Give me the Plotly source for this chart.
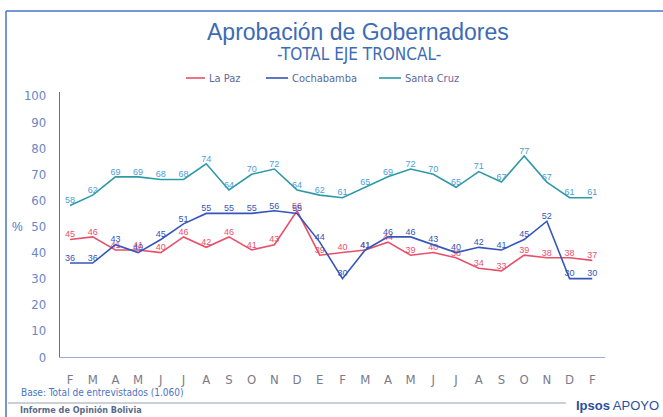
import plotly.graph_objects as go

months = ["F","M","A","M","J","J","A","S","O","N","D","E","F","M","A","M","J","J","A","S","O","N","D","F"]
la_paz = [45,46,41,41,40,46,42,46,41,43,56,39,40,41,44,39,40,38,34,33,39,38,38,37]
cochabamba = [36,36,43,40,45,51,55,55,55,56,55,44,30,41,46,46,43,40,42,41,45,52,30,30]
santa_cruz = [58,62,69,69,68,68,74,64,70,72,64,62,61,65,69,72,70,65,71,67,77,67,61,61]

W, H = 663, 417
L, R, T, B = 60, 605, 92, 357

def px(x):
    return (x - L) / (R - L)

def py(y):
    return (B - y) / (B - T)

x = list(range(len(months)))
FONT = "Liberation Sans, Arial, sans-serif"
NARROW = "DejaVu Sans Condensed, Liberation Sans, sans-serif"

fig = go.Figure()
series = [
    ("La Paz", la_paz, "#e8506a", "#e8506a"),
    ("Cochabamba", cochabamba, "#3555bb", "#3555bb"),
    ("Santa Cruz", santa_cruz, "#2e9aa6", "#4a9ed6"),
]
for name, vals, lc, tc in series:
    fig.add_trace(go.Scatter(
        x=x, y=vals, name=name, mode="lines+text",
        line=dict(color=lc, width=1.6),
        text=[str(v) for v in vals], textposition="top center",
        textfont=dict(size=9, color=tc, family=FONT),
        cliponaxis=False, showlegend=False, hoverinfo="skip",
    ))

fig.update_layout(
    width=W, height=H,
    margin=dict(l=L, r=W - R, t=T, b=H - B, autoexpand=False),
    paper_bgcolor="white", plot_bgcolor="white",
    showlegend=False,
    font=dict(family=FONT),
    xaxis=dict(range=[-0.44, 23.56], tickmode="array", tickvals=x, ticktext=months,
               showgrid=False, zeroline=False, showline=True, linecolor="#9aaad0", linewidth=1,
               ticks="", ticklabelstandoff=10, automargin=False,
               tickfont=dict(size=13, color="#7a7a8a", family=NARROW)),
    yaxis=dict(range=[0, 101.5], tickmode="array", tickvals=list(range(0, 101, 10)),
               showgrid=False, zeroline=False, showline=True, linecolor="#4a74c4", linewidth=1.3,
               ticks="", ticklabelstandoff=10, automargin=False,
               tickfont=dict(size=13, color="#6a86c4", family=NARROW)),
)

def note(text, x, y, size, color, family=FONT, anchor="center"):
    fig.add_annotation(text=text, x=px(x), y=py(y), xref="paper", yref="paper",
                       xanchor=anchor, yanchor="middle", showarrow=False,
                       font=dict(size=size, color=color, family=family))

note("Aprobación de Gobernadores", 358, 32, 23, "#3d6bb5")
note("-TOTAL EJE TRONCAL-", 359, 54, 17, "#3d6bb5", NARROW)
note("%", 17, 227, 12, "#4a74c4")
note("Base: Total de entrevistados (1.060)", 19, 392, 10, "#4a74c4", NARROW, "left")
note("<b>Informe de Opinión Bolivia</b>", 18, 410, 9, "#5a6a8a", NARROW, "left")
note("<b>Ipsos</b> APOYO", 574, 405, 13, "#2b4f9e", FONT, "left")

# manual legend
legend = [("La Paz", "#e8506a", 186, 205), ("Cochabamba", "#3555bb", 266, 288), ("Santa Cruz", "#2e9aa6", 379, 401)]
for name, col, x0, x1 in legend:
    fig.add_shape(type="line", xref="paper", yref="paper", x0=px(x0), x1=px(x1), y0=py(78), y1=py(78),
                  line=dict(color=col, width=1.6))
    note(name, x1 + 2, 78, 11, "#5a6a9a", NARROW, "left")

# slide frame and footer rule
fig.add_shape(type="line", xref="paper", yref="paper", x0=px(6), x1=px(6), y0=py(11), y1=py(417),
              line=dict(color="#4a74c4", width=1.5))
fig.add_shape(type="line", xref="paper", yref="paper", x0=px(6), x1=px(663), y0=py(11), y1=py(11),
              line=dict(color="#4a74c4", width=1.5))
fig.add_shape(type="line", xref="paper", yref="paper", x0=px(8), x1=px(566), y0=py(403), y1=py(403),
              line=dict(color="#9aa0b0", width=1))

fig.write_html("out.html", config={"displayModeBar": False},
               post_script="document.body.style.margin='0';document.body.style.overflow='hidden';")
